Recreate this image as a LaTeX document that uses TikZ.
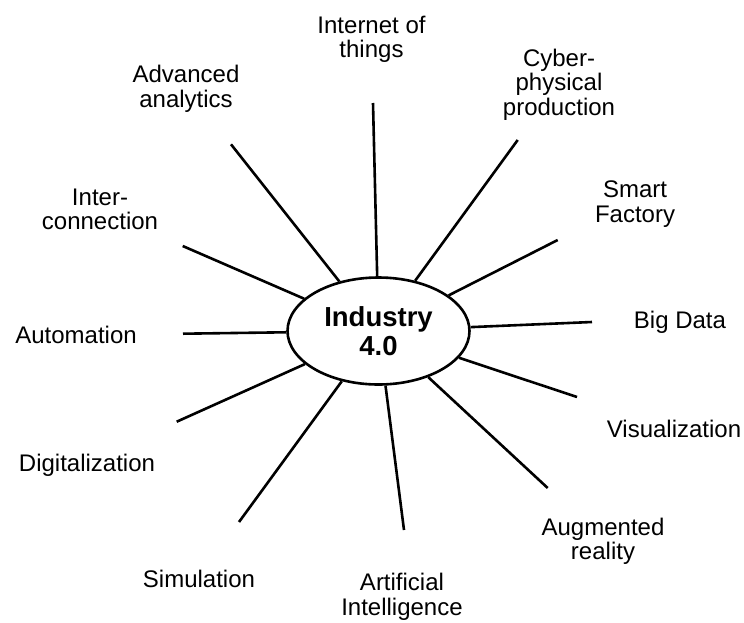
\documentclass[tikz,border=0pt]{standalone}
\usepackage{fontspec}
\setmainfont{Liberation Sans}
\usetikzlibrary{shapes.geometric}
\begin{document}
\begin{tikzpicture}[x=1pt,y=-1pt,
  lab/.style={align=center,inner sep=0pt,font=\fontsize{24}{24.5}\selectfont},
  hub/.style={ellipse,draw,line width=2.6pt,minimum width=182pt,minimum height=107pt,
    inner sep=0pt,align=center,font=\bfseries\fontsize{27.5}{29}\selectfont},
  spoke/.style={line width=2.6pt}]
\useasboundingbox (0,0) rectangle (744,622);

% central concept
\node[hub] (hub) at (378.5,331) {Industry\\4.0};

% outer ends of the spokes
\coordinate (iot-end)   at (373,103);
\coordinate (cps-end)   at (517.7,140);
\coordinate (sf-end)    at (557.7,240);
\coordinate (bd-end)    at (592,322);
\coordinate (vis-end)   at (577,397);
\coordinate (ar-end)    at (547.7,488);
\coordinate (ai-end)    at (404,530);
\coordinate (sim-end)   at (239,522);
\coordinate (dig-end)   at (176.7,421.7);
\coordinate (auto-end)  at (183,333.7);
\coordinate (inter-end) at (182.7,246);
\coordinate (adv-end)   at (231,144.3);

% labels
\node[lab] (iot)   at (371.5,39.3)  {Internet of\\things};
\node[lab] (cps)   at (559,84.3)    {Cyber-\\physical\\production};
\node[lab] (sf)    at (635,203.9)   {Smart\\Factory};
\node[lab] (bd)    at (680,322)     {Big Data};
\node[lab] (vis)   at (674,428.5)   {Visualization};
\node[lab] (ar)    at (603,541.5)   {Augmented\\reality};
\node[lab] (ai)    at (402,596.7)   {Artificial\\Intelligence};
\node[lab] (sim)   at (199,578.5)   {Simulation};
\node[lab] (dig)   at (87,465.6)    {Digitalization};
\node[lab] (auto)  at (76,334.7)    {Automation};
\node[lab] (inter) at (100,209.4)   {Inter-\\connection};
\node[lab] (adv)   at (186,88.9)    {Advanced\\analytics};

% spokes from the hub outwards
\foreach \p in {iot,cps,sf,bd,vis,ar,ai,sim,dig,auto,inter,adv}
  \draw[spoke] (hub) -- (\p-end);
\end{tikzpicture}
\end{document}
